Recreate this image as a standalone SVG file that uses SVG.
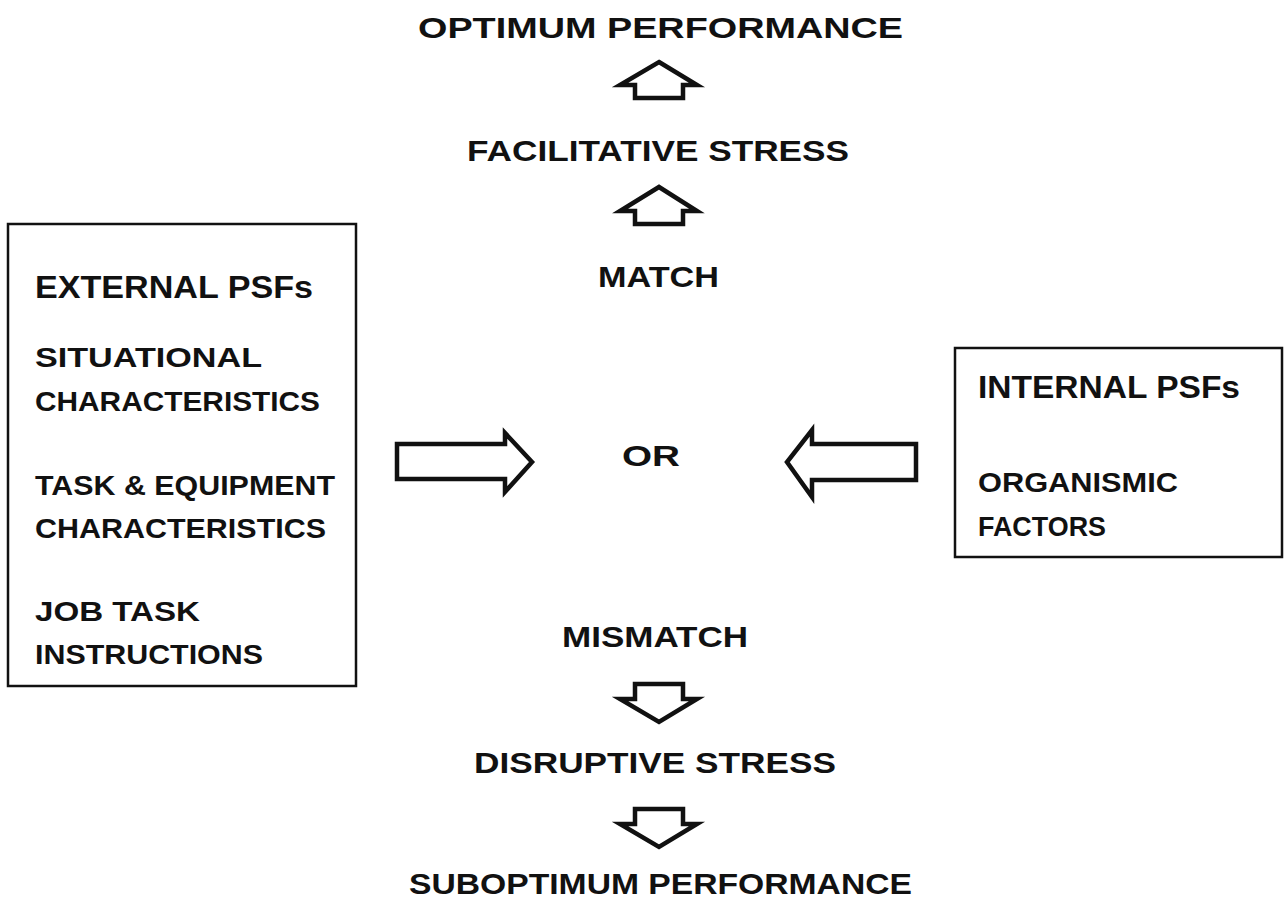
<svg xmlns="http://www.w3.org/2000/svg" width="1284" height="899" viewBox="0 0 1284 899">
<style>
text{font-family:"Liberation Sans",Arial,sans-serif;font-weight:bold;fill:#111;}
.t{font-size:30px;}
.b{font-size:28px;}
.h{font-size:31px;}
.box{fill:none;stroke:#111;stroke-width:2.5;}
.arr{fill:#fff;stroke:#111;stroke-width:4.5;stroke-linejoin:miter;}
</style>
<rect width="1284" height="899" fill="#fff"/>
<g id="optimum"><text class="t" x="418" y="38" textLength="485" lengthAdjust="spacingAndGlyphs">OPTIMUM PERFORMANCE</text></g>
<g id="facilitative"><text class="t" x="467" y="161" textLength="382" lengthAdjust="spacingAndGlyphs">FACILITATIVE STRESS</text></g>
<g id="match"><text class="t" x="598" y="287" textLength="121" lengthAdjust="spacingAndGlyphs">MATCH</text></g>
<g id="or"><text class="t" x="622" y="466" textLength="58" lengthAdjust="spacingAndGlyphs">OR</text></g>
<g id="mismatch"><text class="t" x="562" y="647" textLength="186" lengthAdjust="spacingAndGlyphs">MISMATCH</text></g>
<g id="disruptive"><text class="t" x="474" y="773" textLength="362" lengthAdjust="spacingAndGlyphs">DISRUPTIVE STRESS</text></g>
<g id="suboptimum"><text class="t" x="409" y="894" textLength="503" lengthAdjust="spacingAndGlyphs">SUBOPTIMUM PERFORMANCE</text></g>
<g id="external">
<rect class="box" x="8" y="224" width="348" height="462"/>
<text class="h" x="35" y="298" textLength="278" lengthAdjust="spacingAndGlyphs">EXTERNAL PSFs</text>
<text class="b" x="35" y="367" textLength="227" lengthAdjust="spacingAndGlyphs">SITUATIONAL</text>
<text class="b" x="35" y="411" textLength="285" lengthAdjust="spacingAndGlyphs">CHARACTERISTICS</text>
<text class="b" x="35" y="495" textLength="300" lengthAdjust="spacingAndGlyphs">TASK &amp; EQUIPMENT</text>
<text class="b" x="35" y="538" textLength="291" lengthAdjust="spacingAndGlyphs">CHARACTERISTICS</text>
<text class="b" x="35" y="621" textLength="165" lengthAdjust="spacingAndGlyphs">JOB TASK</text>
<text class="b" x="35" y="664" textLength="228" lengthAdjust="spacingAndGlyphs">INSTRUCTIONS</text>
</g>
<g id="internal">
<rect class="box" x="955" y="348" width="327" height="209"/>
<text class="h" x="978" y="398" textLength="262" lengthAdjust="spacingAndGlyphs">INTERNAL PSFs</text>
<text class="b" x="978" y="492" textLength="200" lengthAdjust="spacingAndGlyphs">ORGANISMIC</text>
<text class="b" x="978" y="536" textLength="128" lengthAdjust="spacingAndGlyphs">FACTORS</text>
</g>
<g id="connectors">
<path class="arr" d="M659,62 L697,85 L683,85 L683,98 L635,98 L635,85 L620,85 Z"/>
<path class="arr" d="M659,187 L697,211 L683,211 L683,224 L635,224 L635,211 L620,211 Z"/>
<path class="arr" d="M397,444 L505,444 L505,433 L532,462 L505,492 L505,479 L397,479 Z"/>
<path class="arr" d="M916,444 L812,444 L812,430 L787,462 L812,497 L812,480 L916,480 Z"/>
<path class="arr" d="M635,684 L683,684 L683,699 L697,699 L659,722 L620,699 L635,699 Z"/>
<path class="arr" d="M635,809 L683,809 L683,824 L697,824 L659,847 L620,824 L635,824 Z"/>
</g>
</svg>
